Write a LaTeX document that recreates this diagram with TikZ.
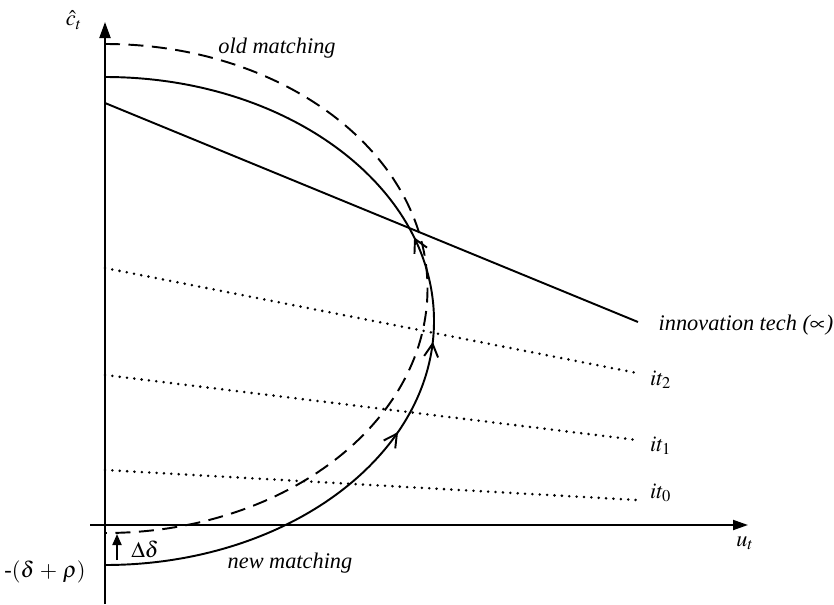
\documentclass[tikz,border=0pt]{standalone}
\usepackage{mathptmx}
\usepackage[no-math]{fontspec}
\setmainfont{Liberation Serif}
\usetikzlibrary{arrows.meta,decorations.markings}
\tikzset{>=Stealth,every node/.style={font=\fontsize{12.7}{15}\selectfont},lbl/.style={font=\fontsize{12.7}{15}\selectfont\itshape},
axis/.style={line width=1.1pt,-{Triangle[length=3.2mm,width=2.2mm]}},curve/.style={line width=1.1pt},
oldcurve/.style={curve,dash pattern=on 3mm off 1.7mm},itline/.style={line width=1.6pt,line cap=round,dash pattern=on 0pt off 4.2pt},
upmarks/.style={postaction={decorate},decoration={markings,
 mark=at position .369 with {\arrow{Straight Barb[length=2.6mm,width=2.8mm]}},
 mark=at position .477 with {\arrow{Straight Barb[length=2.6mm,width=2.8mm]}},
 mark=at position .596 with {\arrow{Straight Barb[length=2.6mm,width=2.8mm]}}}}}

\begin{document}
\begin{tikzpicture}
\useasboundingbox (-2.1,-1.58) rectangle (14.58,10.5);
% axes
\coordinate (O) at (0,0);\coordinate (yb) at (0,-1.58);\coordinate (yt) at (0,10.06);
\coordinate (xl) at (-0.3,0);\coordinate (xr) at (12.86,0);
\draw[axis] (yb)--(yt);\draw[axis,-{Triangle[length=3mm,width=2mm]}] (xl)--(xr);
\node (ct) at (-0.62,10.1){$\hat{c}_t$};\node (ut) at (12.8,-0.36){$u_t$};
% matching curves
\coordinate (newbot) at (0,-0.8);\coordinate (oldtop) at (0,9.62);
\draw[curve,upmarks] (newbot) arc[start angle=-90,end angle=90,x radius=6.58,y radius=4.88];
\draw[oldcurve] (oldtop) arc[start angle=90,end angle=-90,x radius=6.45,y radius=4.89] coordinate (oldbot);
\node[lbl] (old) at (3.44,9.54){old matching};\node[lbl] (new) at (3.7,-0.76){new matching};
\node (dr) at (-1.2,-0.94){-$(\delta\,+\,\rho)$};
\coordinate (da) at (0.24,-0.7);\coordinate (db) at (0.24,-0.18);
\draw[line width=1.1pt,-{Triangle[length=2.2mm,width=1.8mm]}] (da)--(db);\node (dd) at (0.8,-0.48){$\Delta\delta$};
% technologies
\coordinate (ta) at (0,8.44);\coordinate (tb) at (10.66,4.06);\draw[curve] (ta)--(tb);
\node[lbl,anchor=west] (tech) at (10.95,4.0){innovation tech ($\propto$)};
\coordinate (a2) at (0,5.14);\coordinate (b2) at (10.64,3.04);\draw[itline] (a2)--(b2);
\coordinate (a1) at (0,3.0);\coordinate (b1) at (10.64,1.7);\draw[itline] (a1)--(b1);
\coordinate (a0) at (0,1.1);\coordinate (b0) at (10.64,0.5);\draw[itline] (a0)--(b0);
\node[anchor=west] (it2) at (10.78,2.9){$it_2$};\node[anchor=west] (it1) at (10.78,1.58){$it_1$};
\node[anchor=west] (it0) at (10.78,0.64){$it_0$};
\end{tikzpicture}
\end{document}
